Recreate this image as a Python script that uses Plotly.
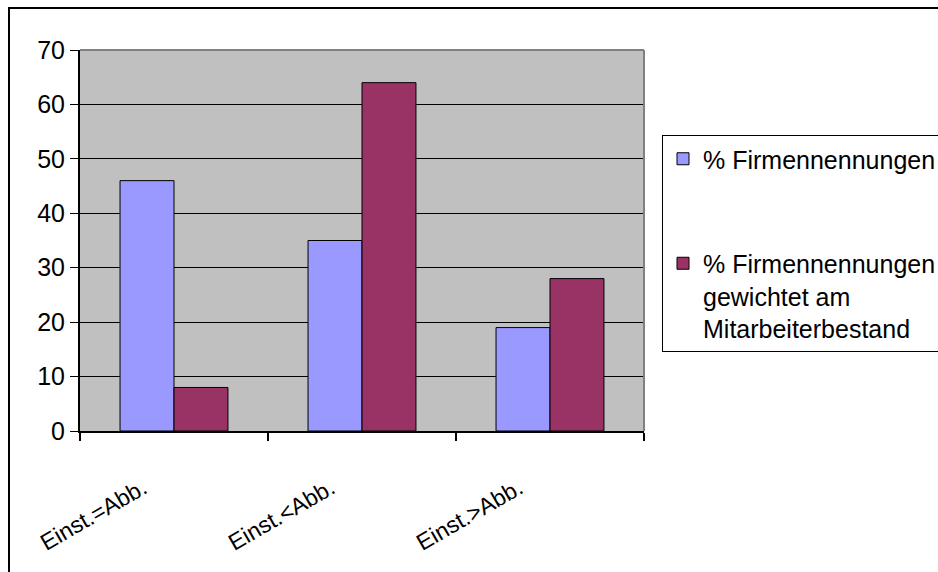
import plotly.graph_objects as go

# Categories and series values
categories = ["Einst.=Abb.", "Einst.<Abb.", "Einst.>Abb."]
firmennennungen = [46, 35, 19]
gewichtet = [8, 64, 28]
series_names = [
    "% Firmennennungen",
    "% Firmennennungen<br>gewichtet am<br>Mitarbeiterbestand",
]
y_ticks = [0, 10, 20, 30, 40, 50, 60, 70]

FONT = "Arial, Liberation Sans, sans-serif"

fig = go.Figure()
fig.add_trace(go.Bar(
    x=categories, y=firmennennungen, name=series_names[0],
    legendgroup="a",
    marker=dict(color="#9999FF", line=dict(color="black", width=1)),
))
fig.add_trace(go.Bar(
    x=categories, y=gewichtet, name=series_names[1],
    legendgroup="b",
    marker=dict(color="#993366", line=dict(color="black", width=1)),
))

# Plot-area geometry (pixels) used for paper-referenced decorations
L, R, T, B, W, H = 80, 294, 50, 141, 938, 572
pw, ph = W - L - R, H - T - B


def px_x(p):
    return (p - L) / pw


def px_y(p):
    return (H - B - p) / ph


shapes = [
    # outer chart frame
    dict(type="rect", xref="paper", yref="paper",
         x0=px_x(9), x1=px_x(960), y0=px_y(8), y1=px_y(600),
         line=dict(color="black", width=2), fillcolor="rgba(0,0,0,0)"),
    # grey top and right border of plot area
    dict(type="line", xref="paper", yref="paper", x0=0, x1=1, y0=1, y1=1,
         line=dict(color="#808080", width=2)),
    dict(type="line", xref="paper", yref="paper", x0=1, x1=1, y0=0, y1=1,
         line=dict(color="#808080", width=2)),
]

fig.update_layout(
    width=W, height=H,
    margin=dict(l=L, r=R, t=T, b=B, autoexpand=False),
    paper_bgcolor="white",
    plot_bgcolor="#C0C0C0",
    font=dict(family=FONT, size=25, color="black"),
    barmode="group",
    bargap=0.426,
    bargroupgap=0,
    shapes=shapes,
    showlegend=True,
    legend=dict(
        x=px_x(662), y=px_y(135), xanchor="left", yanchor="top",
        bgcolor="white", bordercolor="black", borderwidth=1,
        font=dict(family=FONT, size=25, color="black"),
        traceorder="grouped", tracegroupgap=69, valign="top",
        itemwidth=30,
    ),
)

fig.update_yaxes(
    range=[0, 70], tickvals=y_ticks,
    showgrid=True, gridcolor="black", gridwidth=1,
    showline=True, linecolor="black", linewidth=2,
    ticks="outside", ticklen=8, tickcolor="black", tickwidth=1,
    zeroline=False,
    tickfont=dict(family=FONT, size=25),
)
fig.update_xaxes(
    showgrid=False,
    showline=True, linecolor="black", linewidth=2,
    ticks="outside", ticklen=8, tickcolor="black", tickwidth=2,
    tickson="boundaries",
    tickangle=-30,
    ticklabelstandoff=33, ticklabelshift=-31,
    tickfont=dict(family=FONT, size=23),
)

fig.write_html("out.html")
